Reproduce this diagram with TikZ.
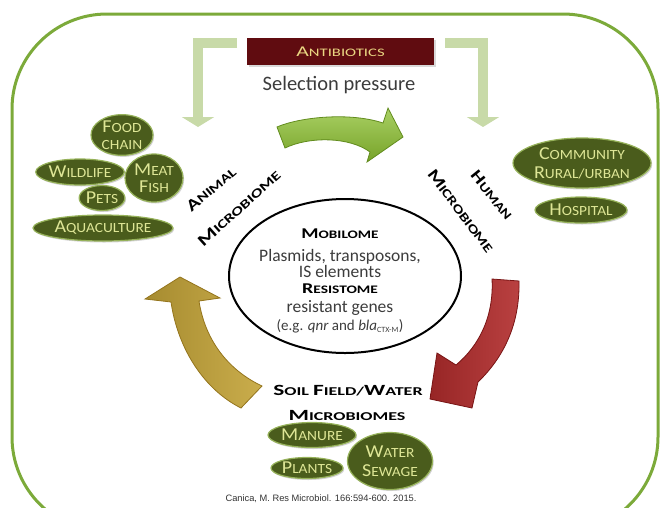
\documentclass[tikz,border=0pt]{standalone}
\usepackage{fontspec}
\setmainfont{Carlito}
\newfontfamily\arialf{Liberation Sans}
\usetikzlibrary{shapes.geometric,arrows.meta,shadows}
\definecolor{framegreen}{RGB}{124,170,58}
\definecolor{brk}{RGB}{200,218,168}
\definecolor{abx}{RGB}{96,12,16}
\definecolor{abxtxt}{RGB}{234,214,130}
\definecolor{olv}{RGB}{74,92,28}
\definecolor{olvedge}{RGB}{150,178,90}
\definecolor{olvtxt}{RGB}{222,230,150}
\definecolor{txtgray}{RGB}{60,60,60}
\definecolor{agreen}{RGB}{140,192,48}
\definecolor{agreenD}{RGB}{98,140,30}
\definecolor{ared}{RGB}{178,44,44}
\definecolor{aredD}{RGB}{120,20,20}
\definecolor{ayel}{RGB}{196,164,56}
\definecolor{ayelD}{RGB}{148,116,28}
\newcommand\Ucap[1]{\scalebox{1.3}{#1}}
\newcommand\SCx[2]{\scalebox{#1}[1]{#2}}
\tikzset{
  gell/.style={ellipse, fill=olv, draw=olvedge, line width=1.2pt, inner sep=0pt,
    text=olvtxt, font=\fontsize{14}{17}\selectfont, align=center,
    drop shadow={opacity=0.35, shadow xshift=1.2pt, shadow yshift=-1.5pt}},
  biglabel/.style={font=\bfseries\fontsize{12.5}{14}\selectfont, text=black, inner sep=0pt},
  coretxt/.style={font=\fontsize{17.5}{19}\selectfont, text=txtgray, anchor=base, inner sep=0pt},
  corehead/.style={font=\bfseries\fontsize{11.5}{13}\selectfont, text=black, anchor=base, inner sep=0pt},
  bracket/.style={draw=brk, line width=10pt, line join=miter, -{Triangle[length=10pt,width=32pt]}},
}
\begin{document}
\begin{tikzpicture}[x=1pt,y=-1pt]
\useasboundingbox (0,0) rectangle (664,507);
% outer frame
\draw[framegreen, line width=3pt, rounded corners=95pt] (12,14) rectangle (658,532);

% antibiotics box and brackets
\node[fill=abx, minimum width=187, minimum height=27, inner sep=0pt,
  drop shadow={opacity=0.3, shadow xshift=1.5pt, shadow yshift=-2pt},
  font=\fontsize{11.5}{13}\selectfont, text=abxtxt] (abx) at (340.5,51.5) {\SCx{1.45}{\Ucap{A}NTIBIOTICS}};
\node[font=\fontsize{20.5}{22}\selectfont, text=txtgray, inner sep=0pt] (sel) at (339,85) {Selection pressure};
\coordinate (bl1) at (237,43); \coordinate (bl2) at (198,43); \coordinate (bl3) at (198,127);
\coordinate (br1) at (445,43); \coordinate (br2) at (483,43); \coordinate (br3) at (483,127);
\draw[bracket] (bl1) -- (bl2) -- (bl3);
\draw[bracket] (br1) -- (br2) -- (br3);

% curved arrows
\path[top color=agreen!75!white, bottom color=agreen!85!black, draw=agreenD, line width=0.8pt]
  (277,127) .. controls (300,117) and (350,112) .. (383,123) -- (388,108) -- (403,137)
  -- (367,162) -- (370,152) .. controls (350,137) and (310,136) .. (285,148) -- cycle;
\path[left color=ared!85!black, right color=ared!90!white, draw=aredD, line width=0.8pt]
  (492,279) -- (519,281) .. controls (520,325) and (503,358) .. (478,382) -- (472,408)
  -- (430,399) -- (437,353) -- (456,365) .. controls (480,345) and (494,315) .. (492,279) -- cycle;
\path[left color=ayel!85!black, right color=ayel!90!white, draw=ayelD, line width=0.8pt]
  (180,277) -- (220,298) -- (199,301) .. controls (205,340) and (228,370) .. (262,386)
  -- (241,408) .. controls (205,390) and (178,350) .. (171,302) -- (145,299) -- cycle;

% central ellipse
\node[draw, ellipse, line width=2pt, minimum width=232, minimum height=154, inner sep=0pt] (core) at (345,276) {};
\node[corehead] (mob) at (340,238) {\SCx{1.32}{\Ucap{M}OBILOME}};
\node[coretxt] (pla) at (340,261) {Plasmids, transposons,};
\node[coretxt] (ise) at (340,277) {IS elements};
\node[corehead] (res) at (340,293) {\SCx{1.34}{\Ucap{R}ESISTOME}};
\node[coretxt] (rgn) at (340,312) {resistant genes};
\node[coretxt, font=\fontsize{15}{17}\selectfont] (egq) at (340,330) {(e.g. \textit{qnr} and \textit{bla}\textsubscript{\fontsize{8}{9}\selectfont CTX-M})};

% microbiome labels
\node[biglabel, rotate=40] (ani) at (211,189) {\SCx{1.32}{\Ucap{A}NIMAL}};
\node[biglabel, rotate=42] (amic) at (239,208) {\SCx{1.4}{\Ucap{M}ICROBIOME}};
\node[biglabel, rotate=-51] (hum) at (492,195) {\SCx{1.28}{\Ucap{H}UMAN}};
\node[biglabel, rotate=-53] (hmic) at (461,211) {\SCx{1.32}{\Ucap{M}ICROBIOME}};
\node[font=\bfseries\fontsize{12}{14}\selectfont, anchor=base, inner sep=0pt] (soil) at (348,395)
  {\SCx{1.5}{\Ucap{S}OIL \Ucap{F}IELD/\Ucap{W}ATER}};
\node[font=\bfseries\fontsize{12}{14}\selectfont, anchor=base, inner sep=0pt] (smic) at (347,420)
  {\SCx{1.5}{\Ucap{M}ICROBIOMES}};

% animal ellipses
\node[gell, minimum width=62, minimum height=37] (food) at (122,135) {\SCx{1.1}{\Ucap{F}OOD}\\\SCx{1.1}{CHAIN}};
\node[gell, minimum width=86, minimum height=26] (wild) at (80,172) {\SCx{1.1}{\Ucap{W}ILDLIFE}};
\node[gell, minimum width=58, minimum height=48] (meat) at (154,178) {\SCx{1.1}{\Ucap{M}EAT}\\\SCx{1.1}{\Ucap{F}ISH}};
\node[gell, minimum width=44, minimum height=25] (pets) at (102,198) {\SCx{1.1}{\Ucap{P}ETS}};
\node[gell, minimum width=140, minimum height=26] (aqua) at (103,228) {\SCx{1.1}{\Ucap{A}QUACULTURE}};

% human ellipses
\node[gell, minimum width=138, minimum height=50, font=\fontsize{14}{19}\selectfont] (comm) at (582,163)
  {\SCx{1.1}{\Ucap{C}OMMUNITY}\\\SCx{1.1}{\Ucap{R}URAL/URBAN}};
\node[gell, minimum width=92, minimum height=26] (hosp) at (581,210) {\SCx{1.1}{\Ucap{H}OSPITAL}};

% soil ellipses
\node[gell, minimum width=88, minimum height=25] (manu) at (312,435) {\SCx{1.1}{\Ucap{M}ANURE}};
\node[gell, minimum width=72, minimum height=21] (plan) at (307,468) {\SCx{1.1}{\Ucap{P}LANTS}};
\node[gell, minimum width=85, minimum height=57, font=\fontsize{14}{19}\selectfont] (watr) at (390,461)
  {\SCx{1.1}{\Ucap{W}ATER}\\\SCx{1.1}{\Ucap{S}EWAGE}};

% citation
\node[font=\arialf\fontsize{9.3}{11}\selectfont, text=black!80, inner sep=0pt] (cite) at (321,499)
  {Canica, M. Res Microbiol. 166:594-600. 2015.};
\end{tikzpicture}
\end{document}
